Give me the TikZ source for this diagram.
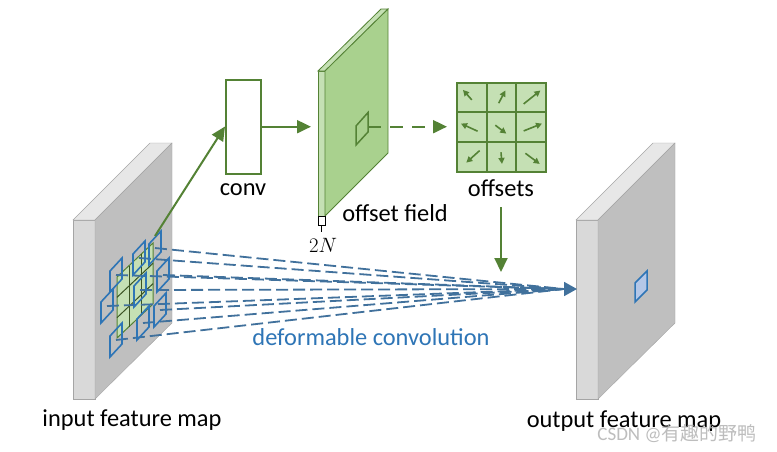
\documentclass[tikz,border=0pt]{standalone}
\usepackage{fontspec}
\setmainfont{Carlito}
\newfontfamily\cjkfont{Noto Sans CJK SC}
\usepackage{tikz}
\usetikzlibrary{arrows.meta, positioning}

\definecolor{convgreen}{HTML}{548235}
\definecolor{fieldfill}{HTML}{A9D18E}
\definecolor{lightgreen}{HTML}{C5E0B4}
\definecolor{darkgreen}{HTML}{3B5323}
\definecolor{mapface}{HTML}{BFBFBF}
\definecolor{mapedge}{HTML}{D9D9D9}
\definecolor{maptop}{HTML}{E7E7E7}
\definecolor{mapline}{HTML}{A5A5A5}
\definecolor{kblue}{HTML}{2E75B6}
\definecolor{lineblue}{HTML}{41719C}
\definecolor{fillblue}{HTML}{B4C7E7}

\tikzstyle{garrow} = [-{Triangle[length=14pt,width=13pt]}, line width=2pt, draw=convgreen]
\tikzstyle{oarrow} = [-{Triangle[length=6pt,width=6pt]}, line width=1.6pt, draw=convgreen, fill=convgreen]
\tikzstyle{fan} = [draw=lineblue, line width=1.8pt, dash pattern=on 12pt off 5pt]
\tikzstyle{kbox} = [draw=kblue, line width=1.6pt]
\tikzstyle{txt} = [font=\fontsize{24.4}{28}\selectfont, inner sep=0pt]

\newcommand{\featuremap}[1]{%
  \begin{scope}[shift={(#1,0)}]
    \filldraw[draw=mapline, fill=mapedge] (73,220) rectangle (95,399);
    \filldraw[draw=mapline, fill=maptop] (73,220) -- (150,143) -- (172,143) -- (95,220) -- cycle;
    \filldraw[draw=mapline, fill=mapface] (95,220) -- (172,143) -- (172,323) -- (95,399) -- cycle;
  \end{scope}}

\begin{document}
\begin{tikzpicture}[x=1pt, y=-1pt]
    \useasboundingbox[fill=white] (0,0) rectangle (777,451);

    % feature maps
    \featuremap{0}
    \featuremap{503}
    \filldraw[draw=kblue, fill=fillblue, line width=1.5pt] (635,283) -- (647,271) -- (647,290) -- (635,302) -- cycle;

    % sampling grid on the input
    \filldraw[draw=convgreen, fill=lightgreen, line width=1pt] (117,277) -- (153,243) -- (153,304) -- (117,338) -- cycle;
    \foreach \i in {1,2} {
        \draw[darkgreen, line width=1pt] (117+12*\i, 277-11.33*\i) -- ++(0,61);
        \draw[darkgreen, line width=1pt] (117, 277+20.33*\i) -- ++(36,-34);
    }

    % deformable convolution
    \coordinate (fanend) at (564,289);
    \coordinate (tip) at (577,289);
    \foreach \x/\y [count=\n] in {149/244, 133/254, 110/271, 157/271, 134/286, 101/302, 154/306, 137/319, 110/336} {
        \coordinate (k\n) at (\x+6, \y+4);
        \draw[fan] (k\n) -- (fanend);
    }
    \foreach \x/\y in {149/244, 133/254, 110/271, 157/271, 134/286, 101/302, 154/306, 137/319, 110/336}
        \draw[kbox] (\x,\y) -- ++(12,-13) -- ++(0,21) -- ++(-12,13) -- cycle;
    \draw[-{Triangle[length=13pt,width=14pt]}, draw=lineblue, line width=1.8pt] (563,289) -- (tip);

    % conv
    \node[draw=convgreen, line width=2pt, fill=white, minimum width=35pt, minimum height=94pt, inner sep=0pt] (conv) at (243.5,126.5) {};
    \coordinate (kin) at (155,236);
    \draw[garrow] (kin) -- (conv.west);

    % offset field
    \filldraw[draw=convgreen, fill=lightgreen, line width=0.8pt] (318,71) rectangle (325,216);
    \filldraw[draw=convgreen, fill=lightgreen, line width=0.8pt] (318,71) -- (381,9) -- (388,9) -- (325,71) -- cycle;
    \filldraw[draw=convgreen, fill=fieldfill, line width=0.8pt] (325,71) -- (388,9) -- (388,153) -- (325,216) -- cycle;
    \draw[convgreen, line width=1.5pt] (356,126) -- (368,112.5) -- (368,132) -- (356,145) -- cycle;
    \coordinate (fieldin) at (311,126.7);
    \coordinate (fieldout) at (368,126.7);
    \draw[garrow] (conv.east |- fieldin) -- (fieldin);

    % 2N
    \draw[black, line width=1pt, fill=white] (318,216) rectangle (325,225);
    \draw[black, line width=1.5pt] (321.5,225) -- (321.5,232);
    \node[inner sep=0pt, font=\fontsize{21}{24}\selectfont] (twoN) at (323,245) {$2N$};

    % offsets
    \node[draw=convgreen, line width=2pt, fill=lightgreen, minimum size=89pt, inner sep=0pt] (grid) at (501.5,127) {};
    \foreach \i in {1,2} {
        \draw[convgreen, line width=2pt] (457+29.67*\i, 82.5) -- (457+29.67*\i, 171.5);
        \draw[convgreen, line width=2pt] (457, 82.5+29.67*\i) -- (546, 82.5+29.67*\i);
    }
    \foreach \cx/\cy/\ax/\ay/\bx/\by in {471.8/97.3/0/2.6/-8.8/-7.4, 501.5/97.3/-2.8/5.9/3.8/-6.8, 531.2/97.3/-7.5/6.6/9.2/-6.8,
                                          471.8/127/5.8/4.2/-10.8/-3.4, 501.5/127/-6.2/-1.8/4.8/6.6, 531.2/127/-7.5/3.9/10.8/-3.4,
                                          471.8/156.7/7.8/-6.1/-5.5/5.9, 501.5/156.7/-0.5/-4.4/0.5/7.2, 531.2/156.7/-5.8/-3.4/8.5/7.2}
        \draw[oarrow] (\cx+\ax, \cy+\ay) -- (\cx+\bx, \cy+\by);
    \draw[garrow, dash pattern=on 13pt off 9pt] (fieldout) -- (447,126.7);

    % labels
    \node[txt] (convl) at (243,190) {conv};
    \node[txt] (fieldl) at (395,213) {offset field};
    \node[txt] (offl) at (501,188) {offsets};
    \node[txt] (inl) at (132,420) {input feature map};
    \node[txt] (outl) at (624,421) {output feature map};
    \node[txt, text=kblue] (defl) at (371,337) {deformable convolution};
    \coordinate (offdown) at (501,207);
    \coordinate (outtip) at (501,272);
    \draw[garrow] (offdown) -- (outtip);

    % watermark
    \node[inner sep=0pt, text=gray!60, opacity=0.85, font=\fontsize{19}{22}\selectfont] (mark) at (677,434) {CSDN @{\cjkfont 有趣的野鸭}};

\end{tikzpicture}
\end{document}
